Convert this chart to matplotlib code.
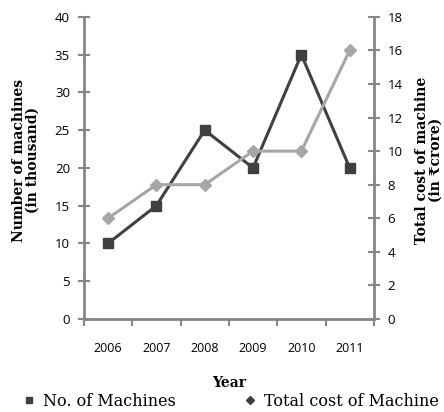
import numpy as np
import matplotlib.pyplot as plt
from matplotlib.lines import Line2D

years = ["2006", "2007", "2008", "2009", "2010", "2011"]
machines = [10, 15, 25, 20, 35, 20]       # thousand
total_cost = [6, 8, 8, 10, 10, 16]        # crore

dark = "#404040"
light = "#a6a6a6"
axis_col = "#868686"
tick_font = ["Open Sans", "DejaVu Sans"]
serif = ["DejaVu Serif", "DejaVu Sans"]

fig = plt.figure(figsize=(4.44, 4.12), dpi=100)
ax = fig.add_axes([0.189, 0.226, 0.653, 0.733])
ax2 = ax.twinx()

x = np.arange(len(years))
ax.plot(x, machines, color=dark, lw=2.2, marker="s", ms=7, label="No. of Machines")
ax2.plot(x, total_cost, color=light, lw=2.2, marker="D", ms=6, label="Total cost of Machine")

ax.set_xlim(-0.5, len(years) - 0.5)
ax.set_ylim(0, 40)
ax2.set_ylim(0, 18)
ax.set_yticks(np.arange(0, 41, 5))
ax2.set_yticks(np.arange(0, 19, 2))

# category ticks at boundaries, labels in the middle
ax.set_xticks(np.arange(-0.5, len(years), 1))
ax.set_xticklabels([])
ax.set_xticks(x, minor=True)
ax.set_xticklabels(years, minor=True, fontsize=9, family=tick_font)
ax.tick_params(axis="x", which="major", direction="out", length=5, width=1.5, color=axis_col)
ax.tick_params(axis="x", which="minor", length=0, pad=17)

for a in (ax, ax2):
    for s in a.spines.values():
        s.set_visible(False)
    a.tick_params(axis="y", direction="inout", length=8, width=1.5, color=axis_col,
                  labelsize=9.5, pad=6)
    for lbl in a.get_yticklabels():
        lbl.set_family(tick_font)
ax.spines["left"].set_visible(True)
ax.spines["bottom"].set_visible(True)
ax2.spines["right"].set_visible(True)
for s in (ax.spines["left"], ax.spines["bottom"], ax2.spines["right"]):
    s.set_color(axis_col)
    s.set_linewidth(2)

ax.set_ylabel("Number of machines\n(in thousand)", fontsize=10, fontweight="bold",
              family=serif, linespacing=1.0)
ax.yaxis.set_label_coords(-0.152, 0.526)
ax2.set_ylabel("Total cost of machine\n(in \u20b9crore)", fontsize=10, fontweight="bold",
               family=serif, linespacing=1.0, rotation=90)
ax2.yaxis.set_label_coords(1.141, 0.526)
ax.set_xlabel("Year", fontsize=10, fontweight="bold", family=serif, labelpad=15)

l1 = ax.get_legend_handles_labels()[1]
l2 = ax2.get_legend_handles_labels()[1]
handles = [Line2D([], [], ls="none", marker="s", ms=5, color=dark),
           Line2D([], [], ls="none", marker="D", ms=4.5, color=dark)]
fig.legend(handles, l1 + l2, loc="lower center", bbox_to_anchor=(0.52, -0.03), ncol=2,
           frameon=False, prop={"family": serif, "size": 11.5}, columnspacing=4.2,
           handlelength=0.8, handletextpad=0.5)

fig.savefig("out.png", dpi=100)
